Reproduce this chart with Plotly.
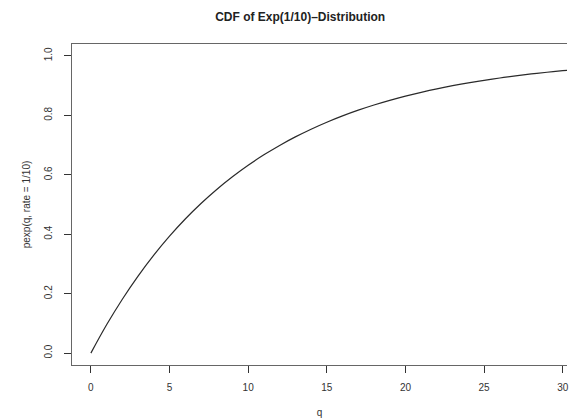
import plotly.graph_objects as go

# values
q = [0, 1, 2, 3, 4, 5, 6, 7, 8, 9, 10, 11, 12, 13, 14, 15, 16, 17, 18, 19, 20,
     21, 22, 23, 24, 25, 26, 27, 28, 29, 30, 31]
p = [0.0, 0.0952, 0.1813, 0.2592, 0.3297, 0.3935, 0.4512, 0.5034, 0.5507, 0.5934,
     0.6321, 0.6671, 0.6988, 0.7275, 0.7534, 0.7769, 0.7981, 0.8173, 0.8347, 0.8504,
     0.8647, 0.8775, 0.8892, 0.8997, 0.9093, 0.9179, 0.9257, 0.9328, 0.9392, 0.9450,
     0.9502, 0.9550]
x_ticks = [0, 5, 10, 15, 20, 25, 30]
y_ticks = [0.0, 0.2, 0.4, 0.6, 0.8, 1.0]
y_tick_labels = ["0.0", "0.2", "0.4", "0.6", "0.8", "1.0"]

FONT = "Liberation Sans, Arial, sans-serif"

fig = go.Figure()
fig.add_trace(go.Scatter(x=q, y=p, mode="lines", line=dict(color="#2a2a2a", width=1.2, shape="spline"),
                         hoverinfo="skip", showlegend=False))

fig.update_layout(
    width=569, height=418,
    margin=dict(l=72, r=0, t=44, b=53),
    paper_bgcolor="white", plot_bgcolor="white",
    font=dict(family=FONT, size=10, color="#222"),
    title=dict(text="<b>CDF of Exp(1/10)\u2013Distribution</b>", x=0.461, xanchor="center",
               xref="paper", y=1 - 17 / 418, yanchor="middle",
               font=dict(family=FONT, size=12, color="#222")),
    xaxis=dict(range=[-1.2, 30.27], tickvals=x_ticks, ticks="outside", ticklen=7,
               tickcolor="#333", tickwidth=1, showgrid=False, zeroline=False,
               showline=True, linecolor="#666", linewidth=1.3, mirror=True,
               tickfont=dict(size=10, color="#333"), ticklabelstandoff=6,
               ticklabeloverflow="allow",
               title=dict(text="q", font=dict(size=10, color="#333"), standoff=16)),
    yaxis=dict(range=[-0.04, 1.04], tickvals=y_ticks, ticktext=y_tick_labels, ticks="outside",
               ticklen=7, tickcolor="#333", tickwidth=1, showgrid=False, zeroline=False,
               showline=True, linecolor="#666", linewidth=1.3, mirror=False,
               tickangle=-90, tickfont=dict(size=10, color="#333"), ticklabelstandoff=8,
               title=dict(text="pexp(q, rate = 1/10)", font=dict(size=10, color="#333"), standoff=10)),
)

fig.write_html("out.html")
